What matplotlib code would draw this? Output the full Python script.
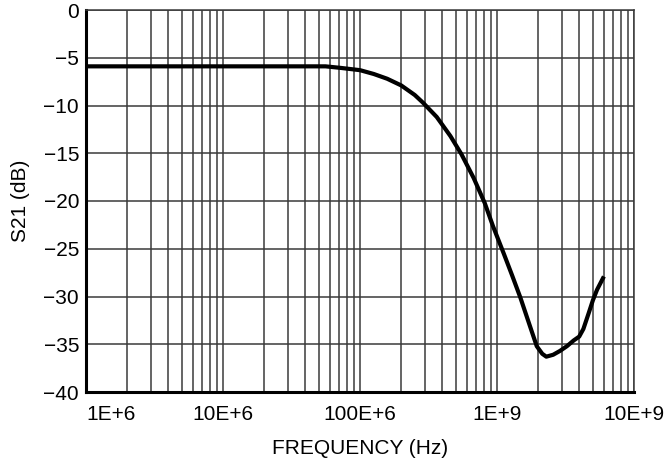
import matplotlib
matplotlib.use("Agg")
import matplotlib.pyplot as plt
from matplotlib.ticker import FixedLocator, FixedFormatter, LogLocator, NullFormatter

plt.rcParams['font.family'] = ['Liberation Sans', 'DejaVu Sans']

# Data (frequency in Hz, S21 in dB)
freq_hz = [1.0e6, 1.0e7, 5.6e7, 7.1e7, 1.0e8, 1.26e8, 1.58e8, 2.0e8, 2.51e8,
           2.88e8, 3.63e8, 4.57e8, 5.5e8, 6.76e8, 8.13e8, 9.33e8, 1.12e9,
           1.29e9, 1.48e9, 1.74e9, 1.95e9, 2.14e9, 2.29e9, 2.57e9, 2.88e9,
           3.24e9, 3.63e9, 3.98e9, 4.27e9, 4.68e9, 5.01e9, 5.37e9, 6.03e9]
s21_db = [-5.9, -5.9, -5.9, -6.05, -6.3, -6.7, -7.2, -7.9, -8.9,
          -9.7, -11.2, -13.2, -15.1, -17.6, -20.2, -22.6, -25.5,
          -27.8, -30.1, -33.1, -35.2, -36.0, -36.3, -36.1, -35.7,
          -35.2, -34.6, -34.2, -33.4, -31.7, -30.4, -29.3, -27.9]

x_ticks = [1e6, 1e7, 1e8, 1e9, 1e10]
x_labels = ['1E+6', '10E+6', '100E+6', '1E+9', '10E+9']
y_ticks = [0, -5, -10, -15, -20, -25, -30, -35, -40]
y_labels = ['0', '\u22125', '\u221210', '\u221215', '\u221220', '\u221225',
            '\u221230', '\u221235', '\u221240']

fig = plt.figure(figsize=(6.66, 4.66), dpi=100)
ax = fig.add_axes([86/666, 1-392/466, (634-86)/666, (392-10)/466])

ax.set_xscale('log')
ax.set_xlim(1e6, 1e10)
ax.set_ylim(-40, 0)

grid_col = '#3a3a3a'
ax.xaxis.set_major_locator(FixedLocator(x_ticks))
ax.xaxis.set_major_formatter(FixedFormatter(x_labels))
ax.xaxis.set_minor_locator(LogLocator(base=10, subs=range(2, 10), numticks=20))
ax.xaxis.set_minor_formatter(NullFormatter())
ax.yaxis.set_major_locator(FixedLocator(y_ticks))
ax.yaxis.set_major_formatter(FixedFormatter(y_labels))

ax.grid(which='major', axis='both', color=grid_col, linewidth=1.1)
ax.grid(which='minor', axis='x', color=grid_col, linewidth=1.1)
ax.set_axisbelow(True)

ax.tick_params(which='both', length=0)
ax.tick_params(axis='x', pad=9, labelsize=15)
ax.tick_params(axis='y', pad=5, labelsize=15)

lbls = ax.get_xticklabels()
lbls[0].set_horizontalalignment('left')

for s in ['top', 'right']:
    ax.spines[s].set_color(grid_col)
    ax.spines[s].set_linewidth(1.1)
for s in ['left', 'bottom']:
    ax.spines[s].set_color('black')
    ax.spines[s].set_linewidth(2.2)

ax.plot(freq_hz, s21_db, color='black', linewidth=3.0, solid_capstyle='butt')

ax.set_xlabel('FREQUENCY (Hz)', fontsize=15, labelpad=11)
ax.set_ylabel('S21 (dB)', fontsize=15, labelpad=10)

fig.savefig('out.png', dpi=100)
